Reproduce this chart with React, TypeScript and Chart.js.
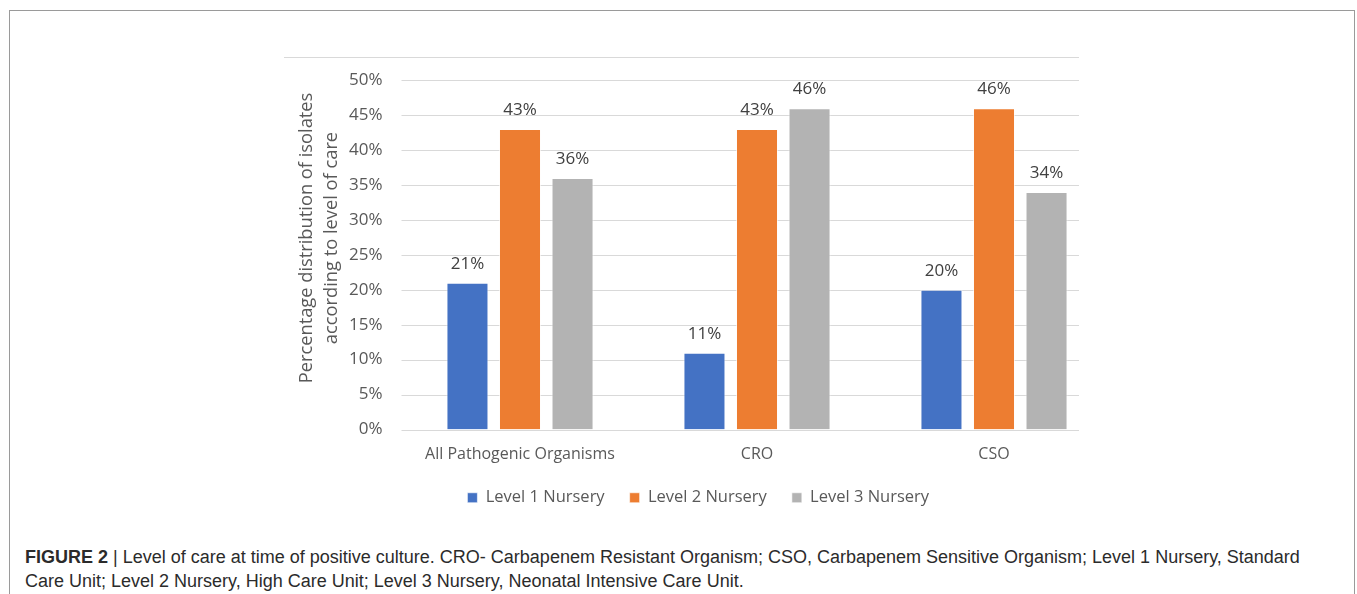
import React, { useEffect, useRef } from "react";
import { Chart, registerables } from "chart.js";

Chart.register(...registerables);

const categories = ["All Pathogenic Organisms", "CRO", "CSO"];
const seriesNames = ["Level 1 Nursery", "Level 2 Nursery", "Level 3 Nursery"];
const level1Values = [21, 11, 20];
const level2Values = [43, 43, 46];
const level3Values = [36, 46, 34];
const seriesColors = ["#4472C4", "#ED7D31", "#B3B3B3"];
const yTitleLines = ["Percentage distribution of isolates", "according to level of care"];
const yMax = 50;
const yStep = 5;

const FONT = "'Open Sans', 'DejaVu Sans', sans-serif";
const LEGEND_SHIFT = 9;

const gridPlugin = {
  id: "partialGrid",
  beforeDatasetsDraw(chart: any) {
    const { ctx, chartArea, scales } = chart;
    const y = scales.y;
    const right = chartArea.left + 677.5;
    ctx.save();
    ctx.strokeStyle = "#D9D9D9";
    ctx.lineWidth = 1.2;
    y.ticks.forEach((t: any) => {
      const py = Math.round(y.getPixelForValue(t.value)) + 0.5;
      ctx.beginPath();
      ctx.moveTo(chartArea.left, py);
      ctx.lineTo(right, py);
      ctx.stroke();
    });
    ctx.restore();
  },
};

const labelPlugin = {
  id: "barLabels",
  afterDatasetsDraw(chart: any) {
    const { ctx } = chart;
    ctx.save();
    ctx.font = `17px ${FONT}`;
    ctx.fillStyle = "#404040";
    ctx.textAlign = "center";
    ctx.textBaseline = "alphabetic";
    chart.data.datasets.forEach((ds: any, i: number) => {
      const meta = chart.getDatasetMeta(i);
      meta.data.forEach((bar: any, j: number) => {
        ctx.fillText(`${ds.data[j]}%`, bar.x, bar.y - 14);
      });
    });
    ctx.restore();
  },
};

const yTitlePlugin = {
  id: "yTitle",
  afterDraw(chart: any) {
    const { ctx } = chart;
    ctx.save();
    ctx.font = `18.3px ${FONT}`;
    ctx.fillStyle = "#595959";
    ctx.textAlign = "center";
    ctx.textBaseline = "middle";
    yTitleLines.forEach((line, i) => {
      ctx.save();
      ctx.translate(23 + i * 25, 179);
      ctx.rotate(-Math.PI / 2);
      ctx.fillText(line, 0, 0);
      ctx.restore();
    });
    ctx.restore();
  },
};

const legendShiftPlugin = {
  id: "legendShift",
  afterLayout(chart: any) {
    const lg = chart.legend;
    if (lg) {
      lg.top -= LEGEND_SHIFT;
      lg.bottom -= LEGEND_SHIFT;
    }
  },
};

function BarChart() {
  const ref = useRef<HTMLCanvasElement | null>(null);
  useEffect(() => {
    if (!ref.current) return;
    const allValues = [level1Values, level2Values, level3Values];
    const chart = new Chart(ref.current, {
      type: "bar",
      data: {
        labels: categories,
        datasets: seriesNames.map((name, i) => ({
          label: name,
          data: allValues[i],
          backgroundColor: seriesColors[i],
          borderColor: "rgba(255,255,255,0.6)",
          borderWidth: 1,
          categoryPercentage: 0.665,
          barPercentage: 0.8,
        })),
      },
      options: {
        responsive: false,
        animation: false,
        devicePixelRatio: 1,
        layout: { padding: { top: 18, right: 7.5, bottom: 14, left: 0 } },
        plugins: {
          legend: {
            position: "bottom",
            labels: {
              boxWidth: 10,
              boxHeight: 10,
              padding: 25,
              color: "#595959",
              font: { family: FONT, size: 16.5 },
            },
          },
          tooltip: { enabled: false },
        },
        scales: {
          x: {
            grid: { display: false },
            border: { display: false },
            ticks: {
              color: "#595959",
              font: { family: FONT, size: 16 },
              padding: 7,
              maxRotation: 0,
              autoSkip: false,
            },
            afterFit(scale: any) {
              scale.height = 44;
            },
          },
          y: {
            min: 0,
            max: yMax,
            grid: { display: false },
            border: { display: false },
            ticks: {
              stepSize: yStep,
              color: "#595959",
              font: { family: FONT, size: 17 },
              padding: 11,
              callback: (v: any) => `${v}%`,
            },
            afterFit(scale: any) {
              scale.width = 117.5;
            },
          },
        },
      },
      plugins: [gridPlugin, labelPlugin, yTitlePlugin, legendShiftPlugin],
    } as any);
    return () => chart.destroy();
  }, []);
  return <canvas ref={ref} width={836} height={480} style={{ width: 836, height: 480, display: "block" }} />;
}

export default function App() {
  return (
    <div
      style={{
        position: "absolute",
        left: 0,
        top: 0,
        width: 1357,
        height: 594,
        overflow: "hidden",
        background: "#fff",
      }}
    >
      <div
        style={{
          position: "absolute",
          left: 9,
          top: 10,
          width: 1344,
          height: 620,
          border: "1px solid #9A9A9A",
        }}
      />
      <div style={{ position: "absolute", left: 284, top: 57, width: 795, height: 1, background: "#D9D9D9" }} />
      <div style={{ position: "absolute", left: 284, top: 59 }}>
        <BarChart />
      </div>
      <div
        style={{
          position: "absolute",
          left: 25,
          top: 545,
          width: 1320,
          fontFamily: "'Liberation Sans', Arial, sans-serif",
          fontSize: 18,
          lineHeight: "24px",
          color: "#2B2B2B",
          whiteSpace: "nowrap",
        }}
      >
        <span style={{ fontWeight: "bold" }}>FIGURE 2</span> | Level of care at time of positive culture. CRO- Carbapenem
        Resistant Organism; CSO, Carbapenem Sensitive Organism; Level 1 Nursery, Standard
        <br />
        Care Unit; Level 2 Nursery, High Care Unit; Level 3 Nursery, Neonatal Intensive Care Unit.
      </div>
    </div>
  );
}
